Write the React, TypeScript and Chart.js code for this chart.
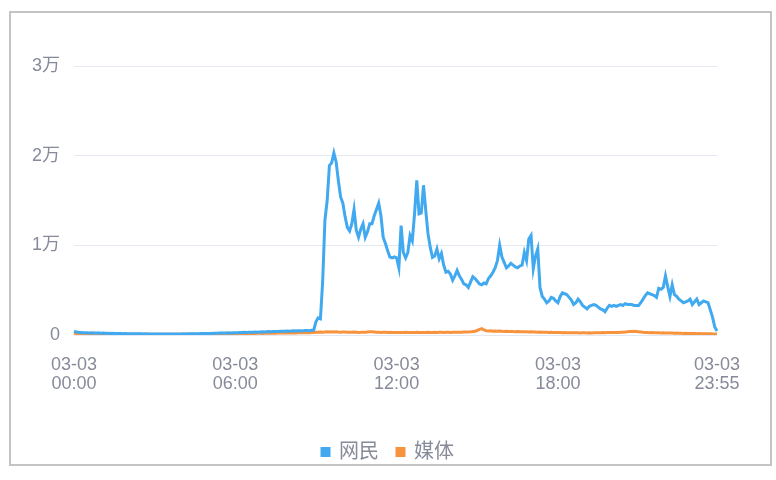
import React, { useEffect, useRef } from "react";
import { Chart, registerables } from "chart.js";

Chart.register(...registerables);

// 网民 series (5-minute buckets, 00:00 – 23:55)
const netizen: number[] = [
  420, 330, 300, 280, 260, 250, 240, 230, 240, 220,
  210, 230, 200, 210, 190, 200, 180, 190, 170, 180,
  160, 170, 150, 160, 150, 140, 150, 140, 130, 140,
  130, 120, 130, 120, 110, 120, 110, 110, 120, 110,
  100, 110, 100, 110, 100, 110, 120, 110, 120, 130,
  120, 130, 140, 130, 150, 140, 150, 160, 170, 160,
  180, 170, 190, 200, 190, 210, 220, 210, 230, 240,
  230, 250, 260, 250, 270, 280, 300, 290, 310, 300,
  320, 330, 310, 340, 350, 330, 360, 380, 370, 390,
  400, 380, 420, 410, 430, 440, 420, 450, 460, 440,
  470, 480, 460, 490, 500, 480, 520, 530, 1500, 1900,
  1800, 6000, 12800, 15000, 18900, 19200, 20300, 19300, 17200, 15400,
  14700, 13200, 12000, 11600, 12400, 14000, 11700, 10900, 11800, 12400,
  10900, 11500, 12400, 12400, 13300, 14000, 14700, 13300, 10900, 10200,
  9400, 8700, 8600, 8700, 8600, 7500, 12200, 9200, 8600, 9200,
  11100, 10500, 13500, 17250, 13500, 13600, 16700, 13900, 11300, 9800,
  8650, 8800, 9600, 8500, 9100, 7800, 7000, 7100, 6800, 6100,
  6600, 7200, 6600, 6200, 5700, 5600, 5300, 5900, 6500, 6300,
  6000, 5700, 5600, 5800, 5700, 6300, 6600, 7000, 7500, 8300,
  10000, 8700, 8100, 7500, 7700, 8000, 7800, 7600, 7500, 7700,
  7800, 9200, 8300, 10700, 11100, 7400, 8800, 9600, 5300, 4300,
  4000, 3600, 3800, 4200, 4100, 3800, 3600, 4300, 4700, 4600,
  4500, 4200, 3900, 3400, 3600, 4000, 3700, 3300, 3100, 2900,
  3200, 3300, 3400, 3300, 3100, 2900, 2800, 2600, 3000, 3300,
  3200, 3300, 3200, 3300, 3400, 3300, 3500, 3400, 3400, 3400,
  3300, 3300, 3300, 3600, 4000, 4400, 4700, 4600, 4500, 4400,
  4200, 5200, 5100, 5300, 6600, 5400, 4300, 5600, 4500, 4300,
  4000, 3800, 3600, 3700, 3800, 4000, 3400, 3700, 4000, 3400,
  3600, 3800, 3700, 3600, 2800, 2000, 900, 450,
];

// 媒体 series
const media: number[] = [
  250, 150, 110, 90, 100, 80, 90, 85, 95, 80,
  90, 80, 85, 75, 90, 80, 85, 80, 75, 85,
  80, 75, 85, 80, 70, 80, 75, 85, 80, 70,
  80, 75, 70, 80, 75, 70, 80, 75, 80, 70,
  80, 75, 85, 80, 75, 85, 90, 80, 85, 90,
  85, 95, 90, 100, 95, 90, 105, 100, 110, 105,
  110, 120, 115, 120, 130, 125, 135, 130, 140, 145,
  140, 150, 145, 155, 160, 150, 165, 170, 160, 175,
  180, 170, 185, 190, 180, 195, 200, 190, 205, 210,
  200, 215, 220, 210, 225, 230, 220, 235, 240, 230,
  245, 250, 240, 255, 260, 250, 265, 270, 300, 320,
  330, 310, 340, 350, 330, 360, 340, 350, 330, 320,
  340, 330, 310, 320, 300, 330, 310, 290, 300, 320,
  310, 340, 360, 350, 330, 310, 300, 290, 310, 300,
  280, 300, 290, 270, 290, 280, 270, 290, 300, 280,
  270, 290, 280, 300, 290, 270, 280, 290, 300, 280,
  290, 300, 280, 300, 310, 290, 300, 310, 290, 300,
  310, 320, 300, 320, 330, 340, 330, 350, 380, 420,
  500, 620, 700, 560, 480, 450, 470, 430, 450, 420,
  440, 410, 400, 420, 390, 400, 380, 370, 390, 360,
  370, 350, 360, 340, 350, 330, 340, 320, 330, 310,
  300, 310, 290, 300, 280, 290, 270, 280, 260, 270,
  260, 250, 260, 240, 250, 240, 230, 250, 240, 230,
  240, 230, 250, 240, 250, 260, 270, 260, 280, 270,
  280, 270, 290, 280, 300, 310, 330, 350, 380, 400,
  420, 400, 370, 340, 310, 290, 280, 260, 270, 250,
  240, 250, 230, 240, 220, 230, 210, 220, 200, 210,
  190, 200, 180, 190, 170, 180, 160, 170, 150, 160,
  150, 140, 150, 130, 140, 120, 110, 100,
];

const datePart = "03-03";
const timeLabels: string[] = [];
for (let i = 0; i < 288; i++) {
  const m = i * 5;
  const hh = String(Math.floor(m / 60)).padStart(2, "0");
  const mm = String(m % 60).padStart(2, "0");
  timeLabels.push(`${hh}:${mm}`);
}
const shownTickIdx = [0, 72, 144, 216, 287];
const yTickValues = [0, 10000, 20000, 30000];
const yTickText = ["0", "1万", "2万", "3万"];
const seriesNames = ["网民", "媒体"];

const FONT = "'Liberation Sans', 'Noto Sans CJK SC', sans-serif";
const TEXT = "#878a99";

export default function App() {
  const ref = useRef<HTMLCanvasElement | null>(null);
  useEffect(() => {
    if (!ref.current) return;
    const chart = new Chart(ref.current, {
      type: "line",
      data: {
        labels: timeLabels,
        datasets: [
          {
            label: seriesNames[0],
            data: netizen,
            borderColor: "#40a9ef",
            backgroundColor: "#40a9ef",
            borderWidth: 3,
            pointRadius: 0,
            tension: 0,
            yAxisID: "y",
          },
          {
            label: seriesNames[1],
            data: media,
            borderColor: "#f7933d",
            backgroundColor: "#f7933d",
            borderWidth: 3,
            pointRadius: 0,
            tension: 0,
            yAxisID: "y",
          },
        ],
      },
      options: {
        animation: false,
        responsive: false,
        maintainAspectRatio: false,
        layout: { padding: { left: 0, right: 0, top: 66, bottom: 8 } },
        plugins: {
          tooltip: { enabled: false },
          legend: {
            position: "bottom",
            labels: {
              boxWidth: 7,
              boxHeight: 7,
              padding: 18,
              color: TEXT,
              font: { family: FONT, size: 20 },
            },
          },
        },
        scales: {
          x: {
            type: "category",
            grid: { display: false, drawTicks: false },
            border: { display: false },
            ticks: {
              autoSkip: false,
              maxRotation: 0,
              minRotation: 0,
              padding: 20,
              color: TEXT,
              font: { family: FONT, size: 18, lineHeight: 1.06 },
              callback: function (value: any, index: number) {
                if (!shownTickIdx.includes(index)) return null;
                return [datePart, timeLabels[index]];
              },
            },
            afterFit: (s: any) => {
              s.height = 89;
            },
          },
          y: {
            position: "left",
            min: 0,
            max: 30000,
            afterBuildTicks: (s: any) => {
              s.ticks = yTickValues.map((v) => ({ value: v }));
            },
            grid: { color: "#e4e8f2", lineWidth: 1, drawTicks: false },
            border: { display: false },
            ticks: {
              padding: 14,
              color: TEXT,
              font: { family: FONT, size: 18 },
              callback: (v: any) => {
                const i = yTickValues.indexOf(Number(v));
                return i >= 0 ? yTickText[i] : "";
              },
            },
            afterFit: (s: any) => {
              s.width = 74;
            },
          },
          yRight: {
            position: "right",
            display: true,
            grid: { display: false, drawTicks: false },
            border: { display: false },
            ticks: { display: false },
            afterFit: (s: any) => {
              s.width = 59;
            },
          },
        },
      } as any,
    });
    return () => chart.destroy();
  }, []);

  return (
    <div style={{ position: "absolute", left: 0, top: 0, width: 776, height: 480, background: "#fff" }}>
      <div
        style={{
          position: "absolute",
          left: 9,
          top: 11,
          width: 763,
          height: 455,
          border: "2px solid #c4c4c4",
          boxSizing: "border-box",
        }}
      />
      <canvas
        ref={ref}
        width={776}
        height={480}
        style={{ position: "absolute", left: 0, top: 0, width: 776, height: 480 }}
      />
    </div>
  );
}
